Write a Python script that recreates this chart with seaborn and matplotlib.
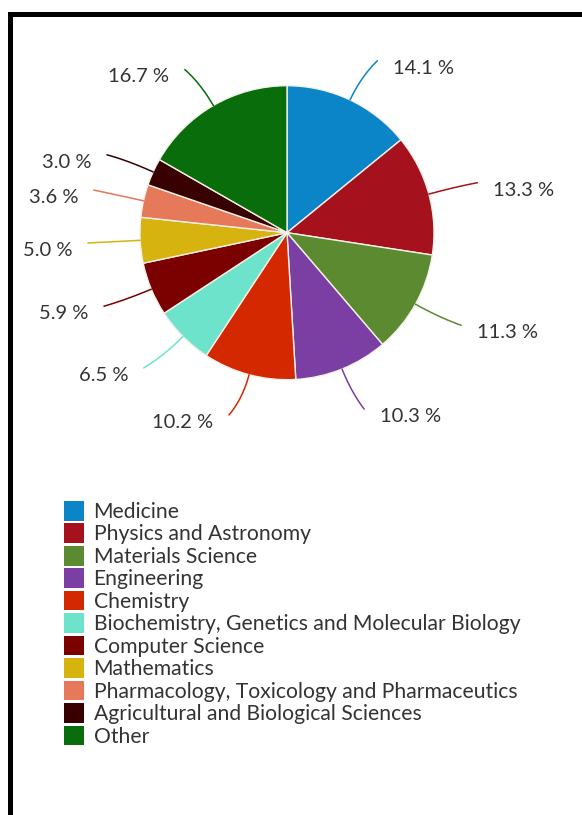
import numpy as np
import matplotlib.pyplot as plt
from matplotlib.patches import Patch, Rectangle
import seaborn as sns

# share of documents by subject area (%)
subjects = ["Medicine", "Physics and Astronomy", "Materials Science", "Engineering",
            "Chemistry", "Biochemistry, Genetics and Molecular Biology",
            "Computer Science", "Mathematics",
            "Pharmacology, Toxicology and Pharmaceutics",
            "Agricultural and Biological Sciences", "Other"]
shares = [14.1, 13.3, 11.3, 10.3, 10.2, 6.5, 5.9, 5.0, 3.6, 3.0, 16.7]
colors = ["#0b84c8", "#a5111c", "#5b8a31", "#7b3ea3", "#d32800", "#6de3cb",
          "#7b0000", "#d7b310", "#e5795a", "#380000", "#086d0a"]

# label anchor positions (in pie radii, relative to the centre)
label_pos = [(0.72, 1.12), (1.40, 0.29), (1.29, -0.68), (0.63, -1.25),
             (-0.50, -1.29), (-1.08, -0.97), (-1.35, -0.55), (-1.46, -0.12),
             (-1.42, 0.24), (-1.33, 0.48), (-0.80, 1.06)]

sns.set_theme(style="white")
plt.rcParams["font.family"] = ["Lato", "DejaVu Sans"]
text_color = "#333333"

W, H = 582, 815
fig = plt.figure(figsize=(W / 100, H / 100), dpi=100)
ax = fig.add_axes([0, 0, 1, 1])

wedges, _ = ax.pie(shares, colors=colors, startangle=90, counterclock=False,
                   radius=1, wedgeprops=dict(edgecolor="#f4f1e8", linewidth=1))

t = np.linspace(0, 1, 40)[:, None]
for w, val, (tx, ty), c in zip(wedges, shares, label_pos, colors):
    mid = np.deg2rad((w.theta1 + w.theta2) / 2)
    p0 = np.array([np.cos(mid), np.sin(mid)])
    right = tx > 0
    p2 = np.array([tx - 0.105 if right else tx + 0.105, ty + 0.05])
    # quadratic curve leaving the slice radially and bending towards the label
    p1 = p0 + p0 * 0.55 * np.linalg.norm(p2 - p0)
    curve = (1 - t) ** 2 * p0 + 2 * (1 - t) * t * p1 + t ** 2 * p2
    ax.plot(curve[:, 0], curve[:, 1], color=c, lw=1.1)
    ax.text(tx, ty, f"{val:.1f} %", ha="left" if right else "right",
            va="center", fontsize=14.5, color=text_color)

# map the axes so that the pie sits at (287, 233) px with radius 147 px
cx, cy, r = 287, 232.7, 147
ax.set_xlim(-cx / r, (W - cx) / r)
ax.set_ylim((cy - H) / r, cy / r)
ax.set_aspect("auto")
ax.axis("off")

handles = [Patch(facecolor=c, edgecolor="none") for c in colors]
fig.legend(handles, subjects, loc="upper left",
           bbox_to_anchor=(64 / W, 1 - 501 / H), frameon=False,
           fontsize=15.2, handlelength=0.95, handleheight=1.05,
           handletextpad=0.45, labelspacing=0.07, borderpad=0,
           borderaxespad=0, labelcolor=text_color)

# black frame along the top and left edges
fig.add_artist(Rectangle((8 / W, 1 - 17 / H), 1, 5 / H, transform=fig.transFigure,
                         color="black", lw=0))
fig.add_artist(Rectangle((8 / W, 0), 5 / W, 1 - 12 / H, transform=fig.transFigure,
                         color="black", lw=0))

fig.savefig("out.png", dpi=100, facecolor="white")
